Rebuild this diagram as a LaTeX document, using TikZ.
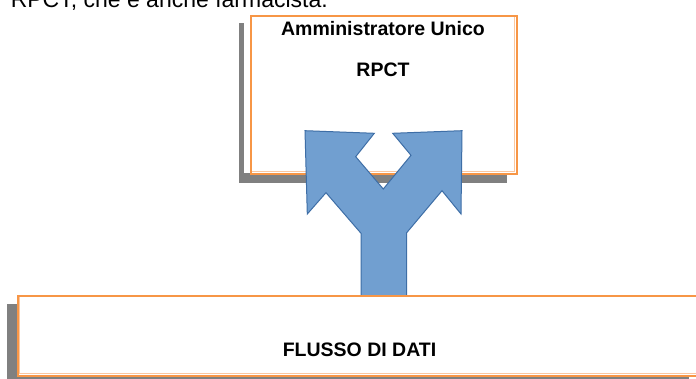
\documentclass[tikz,border=0pt]{standalone}
\usepackage{fontspec}
\setmainfont{Liberation Sans}
\definecolor{orA}{HTML}{F79646}
\definecolor{orB}{HTML}{FBC7A0}
\definecolor{shad}{HTML}{808080}
\definecolor{arrF}{HTML}{719FD0}
\definecolor{arrD}{HTML}{3E6EA6}
\begin{document}
\begin{tikzpicture}[x=1pt,y=-1pt,
  lbl/.style={font=\fontsize{19.5}{22}\selectfont\bfseries, inner sep=0pt},
  boxline/.style={draw=orA, line width=1.6pt},
  boxinner/.style={draw=orB, line width=1.2pt},
  shadowfill/.style={fill=shad, draw=none}]
\useasboundingbox (0,0) rectangle (696,379);
\clip (0,0) rectangle (696,379);
% caption text (cut at top)
\node[anchor=base east, font=\fontsize{23}{26}\selectfont, inner sep=0pt] (cap) at (328,7.8) {RPCT, che è anche farmacista.};
% top box shadow
\path[shadowfill] (239,23) rectangle (507,183);
\path[fill=white] (243.5,14) rectangle (517,173);
\path[boxinner] (251.8,16.8) rectangle (514.2,171.2);
\node[boxline, fill=none, minimum width=266pt, minimum height=158pt, anchor=north west, inner sep=0pt] (top) at (250,15) {};
\node[lbl] (t1) at (383,28.5) {Amministratore Unico};
\node[lbl] (t2) at (383,69.5) {RPCT};
% bottom box shadow
\path[shadowfill] (7.3,304) rectangle (689,392);
\path[fill=white] (17.3,295) rectangle (720,375);
\path[boxinner] (19.1,296.8) rectangle (720,373.2);
\node[boxline, minimum width=703pt, minimum height=80pt, anchor=north west, inner sep=0pt] (bot) at (17.3,295) {};
\node[lbl] (t3) at (359.5,349.5) {FLUSSO DI DATI};
% split arrow
\draw[fill=arrF, draw=arrD, line width=1pt, line join=miter]
  (361,295) -- (361,233.3) -- (326,192.7) -- (307.3,214) -- (305,130.7)
  -- (374.3,133.3) -- (355.7,156.7) -- (383.3,189) -- (411,155.3)
  -- (392.7,133.3) -- (462,130.7) -- (461,214) -- (442,190.7)
  -- (406.7,232.7) -- (406.7,295);
\end{tikzpicture}
\end{document}
